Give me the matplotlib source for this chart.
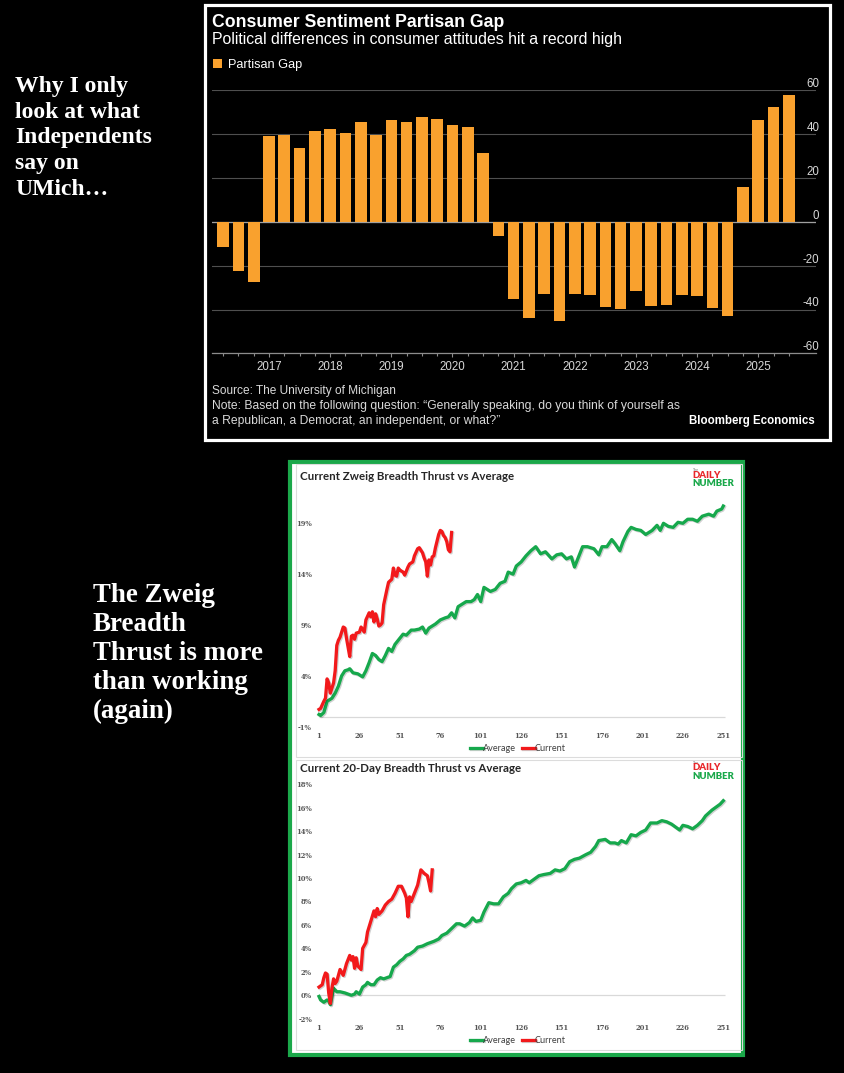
import matplotlib
matplotlib.use("Agg")
import matplotlib.pyplot as plt
from matplotlib.patches import Rectangle
import matplotlib.patheffects as pe

plt.rcParams["axes.unicode_minus"] = False

# ---------------- data ----------------
# Bloomberg partisan gap, quarterly (2016Q2 .. 2025Q3)
quarter_labels = [f"{y}Q{q}" for y in range(2016, 2026) for q in range(1, 5)][1:-1]
partisan_gap = [-11.7, -22.3, -27.5,
                39.1, 39.5, 33.5, 41.1, 42.3, 40.3, 45.6, 39.5, 46.4, 45.3,
                47.8, 46.7, 44.1, 43.2, 31.5,
                -6.5, -35.1, -43.7, -32.8, -45.1, -33.1, -33.4, -38.7, -39.8,
                -31.7, -38.4, -38.0, -33.6, -34.0, -39.5, -42.8,
                16.0, 46.4, 52.2, 57.8]
year_ticks = [2017, 2018, 2019, 2020, 2021, 2022, 2023, 2024, 2025]
gap_yticks = [-60, -40, -20, 0, 20, 40, 60]

# Zweig breadth thrust (cumulative % by trading day)
zweig_avg_days = [1, 2, 4, 6, 9, 11, 13, 15, 17, 19, 20, 22, 25, 28, 30, 32, 34, 36, 38, 40,
                  42, 44, 46, 48, 50, 53, 55, 58, 60, 63, 65, 67, 69, 73, 76, 79, 81, 83, 85, 87,
                  89, 92, 95, 97, 99, 101, 103, 107, 110, 113, 116, 118, 121, 123, 126, 129, 132,
                  135, 138, 141, 145, 148, 151, 154, 157, 159, 161, 164, 167, 171, 174, 176, 179,
                  182, 184, 187, 189, 192, 194, 197, 200, 203, 207, 210, 212, 214, 217, 220, 223,
                  226, 229, 232, 235, 238, 242, 245, 247, 250, 251]
zweig_avg_vals = [0.2, 0.1, 0.4, 1.5, 1.8, 2.3, 3.0, 4.0, 4.5, 4.6, 4.7, 4.3, 4.2, 3.9, 4.5, 5.3,
                  6.2, 6.0, 5.6, 5.4, 6.0, 6.7, 6.4, 7.1, 7.5, 8.1, 8.0, 8.5, 8.5, 8.6, 8.8, 8.2,
                  8.7, 9.1, 9.5, 9.7, 9.8, 10.2, 9.7, 10.8, 11.0, 11.3, 11.3, 11.5, 12.0, 11.3,
                  12.7, 12.3, 12.5, 13.1, 13.3, 14.2, 14.0, 14.8, 15.2, 15.8, 16.3, 16.7, 16.0,
                  16.2, 15.5, 15.9, 16.0, 15.5, 15.7, 14.7, 15.5, 16.7, 16.7, 16.5, 15.9, 16.7,
                  16.7, 17.4, 17.0, 16.3, 17.2, 18.2, 18.6, 18.4, 18.3, 17.9, 18.3, 18.8, 18.3,
                  19.0, 18.7, 18.6, 19.1, 19.0, 19.4, 19.4, 19.2, 19.7, 19.9, 19.7, 20.2, 20.4,
                  20.7]
zweig_cur_days = [1, 2, 4, 5, 6, 7, 8, 9, 10, 11, 12, 13, 14, 16, 17, 18, 19, 20, 21, 22, 23,
                  24, 26, 27, 29, 30, 32, 33, 34, 35, 36, 37, 38, 39, 40, 41, 43, 44, 46, 47, 48,
                  49, 50, 51, 53, 54, 56, 57, 59, 60, 62, 63, 65, 66, 67, 68, 69, 70, 71, 72, 73,
                  75, 76, 77, 78, 79, 80, 81, 82, 83]
zweig_cur_vals = [0.7, 0.8, 1.5, 1.8, 3.7, 3.3, 2.3, 2.8, 3.3, 4.5, 7.0, 7.5, 7.8, 8.8, 8.7,
                  7.7, 6.8, 5.9, 7.9, 8.0, 7.6, 8.2, 8.3, 8.8, 8.3, 9.5, 10.2, 9.8, 10.3, 9.3,
                  10.1, 9.6, 8.9, 9.0, 9.2, 11.0, 12.5, 13.2, 13.5, 14.6, 13.9, 13.8, 14.6, 14.4,
                  14.2, 13.9, 14.7, 15.0, 15.2, 15.8, 16.5, 16.6, 16.1, 15.6, 15.2, 13.8, 15.4,
                  14.9, 15.7, 15.8, 16.6, 17.9, 18.3, 18.2, 17.8, 17.6, 17.2, 16.4, 16.2, 18.1]
zweig_yticks = [-1, 4, 9, 14, 19]

# 20-day breadth thrust
td_avg_days = [1, 2, 4, 6, 7, 8, 10, 12, 14, 17, 19, 21, 23, 24, 26, 28, 30, 31, 33, 35, 37,
               39, 41, 43, 45, 47, 49, 51, 53, 55, 57, 60, 62, 65, 68, 72, 75, 77, 80, 83, 86,
               88, 91, 94, 96, 98, 101, 103, 106, 109, 112, 115, 118, 120, 123, 126, 129, 131,
               134, 137, 140, 144, 147, 150, 153, 156, 159, 162, 166, 169, 172, 174, 178, 181,
               184, 186, 188, 191, 194, 197, 200, 203, 206, 210, 213, 216, 219, 222, 224, 226,
               229, 232, 235, 238, 240, 244, 247, 249, 251]
td_avg_vals = [-0.1, -0.4, -0.6, -0.4, -0.5, -0.8, 0.6, 0.3, 0.3, 0.2, 0.1, 0.0, 0.1, 0.3, 0.1,
               0.7, 0.9, 1.1, 0.9, 0.9, 1.3, 1.5, 1.4, 1.5, 1.6, 2.4, 2.6, 2.9, 3.1, 3.4, 3.5,
               3.8, 4.1, 4.2, 4.4, 4.6, 4.8, 5.1, 5.3, 5.7, 6.1, 6.1, 5.9, 6.2, 6.6, 6.3, 6.4,
               7.1, 7.9, 7.8, 7.8, 8.4, 8.7, 9.1, 9.5, 9.6, 9.8, 9.6, 9.9, 10.2, 10.3, 10.4,
               10.7, 10.6, 10.8, 11.4, 11.6, 11.7, 12.0, 12.2, 12.7, 13.2, 13.3, 13.0, 13.0,
               12.9, 13.2, 13.0, 13.7, 13.6, 13.9, 14.1, 14.7, 14.7, 14.9, 14.8, 14.6, 14.3,
               14.1, 14.5, 14.4, 14.2, 14.5, 14.9, 15.3, 15.8, 16.1, 16.3, 16.6]
td_cur_days = [1, 3, 4, 5, 6, 7, 8, 9, 10, 11, 12, 14, 16, 18, 20, 21, 22, 23, 24, 25, 27, 28,
               30, 31, 33, 35, 36, 37, 38, 40, 42, 44, 46, 48, 50, 52, 54, 55, 56, 57, 58, 60,
               62, 64, 66, 68, 69, 70, 71]
td_cur_vals = [0.7, 0.9, 1.5, 1.9, 1.8, 0.2, -0.7, 0.6, 1.4, 1.0, 1.2, 2.2, 1.7, 2.7, 3.4, 3.0,
               3.3, 2.3, 3.2, 2.5, 2.2, 4.0, 4.5, 5.4, 6.3, 7.2, 6.7, 7.4, 6.9, 7.2, 7.7, 8.0,
               8.2, 8.7, 9.3, 9.3, 8.7, 8.3, 6.7, 8.4, 8.0, 8.7, 9.4, 10.7, 10.4, 10.2, 9.6,
               8.9, 10.7]
td_yticks = [-2, 0, 2, 4, 6, 8, 10, 12, 14, 16, 18]
day_ticks = [1, 26, 51, 76, 101, 126, 151, 176, 201, 226, 251]

# ---------------- figure ----------------
W, H = 845, 1073
fig = plt.figure(figsize=(W / 100, H / 100), dpi=100, facecolor="black")


def px_axes(l, t, r, b, **kw):
    return fig.add_axes([l / W, 1 - b / H, (r - l) / W, (b - t) / H], **kw)


def ftext(x, y, s, **kw):
    return fig.text(x / W, 1 - y / H, s, **kw)


def frect(l, t, r, b, **kw):
    p = Rectangle((l / W, 1 - b / H), (r - l) / W, (b - t) / H,
                  transform=fig.transFigure, **kw)
    fig.patches.append(p)
    return p


SERIF = "Liberation Serif"
BB = "Liberation Sans"

# ---------------- left commentary texts ----------------
for i, line in enumerate(["Why I only", "look at what", "Independents", "say on", "UMich…"]):
    ftext(15, 92.3 + i * 25.6, line, color="white", fontsize=17, fontweight="bold",
          family=SERIF, va="baseline", ha="left")
for i, line in enumerate(["The Zweig", "Breadth", "Thrust is more", "than working", "(again)"]):
    ftext(93, 602.3 + i * 29.0, line, color="white", fontsize=19.4, fontweight="bold",
          family=SERIF, va="baseline", ha="left")

# ---------------- Bloomberg bar chart ----------------
frect(205, 5, 830, 440, fill=False, edgecolor="white", lw=2.3, zorder=-2)

ax = px_axes(212.2, 90, 816, 353.4)
ax.set_facecolor("black")
pos = [int(l[:4]) + (int(l[-1]) - 1) / 4 for l in quarter_labels]
ax.bar(pos, partisan_gap, width=0.19, color="#F9A12E", zorder=3, label="Partisan Gap")
ax.set_xlim(2016.071, 2025.945)
ax.set_ylim(-60, 60)
for s in ["top", "left", "right"]:
    ax.spines[s].set_visible(False)
ax.spines["bottom"].set_color("#8c8c8c")
ax.spines["bottom"].set_linewidth(0.9)
ax.set_yticks(gap_yticks)
ax.grid(axis="y", color="#4f4f4f", lw=0.8, zorder=0)
ax.axhline(0, color="#a0a0a0", lw=0.9, zorder=2)
ax.tick_params(axis="y", which="both", left=False, right=False, labelleft=False,
               labelright=True, pad=-1, labelsize=8.3, labelcolor="#d8d8d8")
for lab in ax.get_yticklabels():
    lab.set_horizontalalignment("right")
    lab.set_verticalalignment("bottom")
    lab.set_family(BB)
ax.set_xticks(year_ticks)
ax.set_xticklabels([str(y) for y in year_ticks], family=BB)
ax.set_xticks(pos, minor=True)
ax.tick_params(axis="x", which="major", length=3.2, width=0.8, color="#8c8c8c",
               labelsize=8.3, labelcolor="#d8d8d8", pad=2)
ax.tick_params(axis="x", which="minor", length=1.8, width=0.8, color="#8c8c8c")
leg = ax.legend(loc="center left", bbox_to_anchor=(213 / W, 1 - 65 / H),
                bbox_transform=fig.transFigure, frameon=False, handlelength=0.7,
                handleheight=0.7, handletextpad=0.5, borderpad=0, borderaxespad=0,
                prop={"family": BB, "size": 9.2})
for t in leg.get_texts():
    t.set_color("white")

ftext(212, 22.3, "Consumer Sentiment Partisan Gap", color="white", fontsize=12.7,
      fontweight="bold", family=BB, va="center")
ftext(212, 39.5, "Political differences in consumer attitudes hit a record high", color="white",
      fontsize=11.45, family=BB, va="center")
ftext(212, 391, "Source: The University of Michigan", color="#d9d9d9", fontsize=8.6,
      family=BB, va="center")
ftext(212, 406, "Note: Based on the following question: \u201cGenerally speaking, do you think of yourself as",
      color="#d9d9d9", fontsize=8.75, family=BB, va="center")
ftext(212, 421, "a Republican, a Democrat, an independent, or what?\u201d", color="#d9d9d9",
      fontsize=8.75, family=BB, va="center")
ftext(815, 421, "Bloomberg Economics", color="white", fontsize=8.3, fontweight="bold",
      family=BB, va="center", ha="right")

# ---------------- Daily Number panel ----------------
frect(290, 462, 743, 1055, facecolor="white", edgecolor="#1BA84A", lw=3.0, zorder=-2)
frect(296, 463.5, 741.5, 757, fill=False, edgecolor="#dcdcdc", lw=0.8, zorder=-1)
frect(296, 759.5, 741.5, 1050, fill=False, edgecolor="#dcdcdc", lw=0.8, zorder=-1)

GREEN = "#16A84C"
RED = "#F2191B"
X_DAY1 = 319.0
PX_PER_DAY = (723.3 - 319.0) / 250
AX_L, AX_R = 316.0, 728.0
xl = (1 + (AX_L - X_DAY1) / PX_PER_DAY, 1 + (AX_R - X_DAY1) / PX_PER_DAY)
shadow = [pe.SimpleLineShadow(offset=(0.8, -0.8), alpha=0.18), pe.Normal()]


def daily_chart(top_px, bottom_px, ylim, yticks, avg_d, avg_v, cur_d, cur_v,
                title, title_y, logo_y, legend_y):
    a = px_axes(AX_L, top_px, AX_R, bottom_px)
    a.set_facecolor("none")
    a.plot(avg_d, avg_v, color=GREEN, lw=2.35, label="Average", solid_joinstyle="round",
           path_effects=shadow, zorder=3)
    a.plot(cur_d, cur_v, color=RED, lw=2.35, label="Current", solid_joinstyle="round",
           path_effects=shadow, zorder=4)
    a.hlines(0, 1, 252, color="#d9d9d9", lw=0.9, zorder=1)
    a.set_xlim(*xl)
    a.set_ylim(*ylim)
    for s in a.spines.values():
        s.set_visible(False)
    a.set_yticks(yticks)
    a.set_yticklabels([f"{v}%" for v in yticks])
    a.set_xticks(day_ticks)
    a.set_xticklabels([str(d) for d in day_ticks])
    a.tick_params(length=0, labelsize=4.9, labelcolor="#555555")
    a.tick_params(axis="y", pad=2.9)
    a.tick_params(axis="x", pad=3.6)
    for lab in a.get_xticklabels() + a.get_yticklabels():
        lab.set_family("DejaVu Serif")
        lab.set_fontweight("bold")
    lg = a.legend(loc="center", bbox_to_anchor=(518 / W, 1 - legend_y / H),
                  bbox_transform=fig.transFigure, ncol=2, frameon=False, handlelength=1.4,
                  handletextpad=0.05, columnspacing=0.6, borderpad=0,
                  prop={"family": "Lato", "size": 6.6})
    for t in lg.get_texts():
        t.set_color("#404040")
    ftext(300, title_y, title, color="#262626", fontsize=8.3, fontweight="bold",
          family="Lato", va="center")
    ftext(693, logo_y - 5.5, "The", color="#777777", fontsize=2.6, family="Lato", va="center")
    ftext(692.5, logo_y, "DAILY", color="#E8282B", fontsize=6.9, fontweight="heavy",
          family="Lato", va="center")
    ftext(692.5, logo_y + 8.3, "NUMBER", color="#19A84A", fontsize=6.9, fontweight="heavy",
          family="Lato", va="center")
    return a


z_px_per = (726.7 - 523.3) / 20
daily_chart(726.7 - (21.5 + 1) * z_px_per, 726.7, (-1, 21.5), zweig_yticks,
            zweig_avg_days, zweig_avg_vals, zweig_cur_days, zweig_cur_vals,
            "Current Zweig Breadth Thrust vs Average", 477, 475.7, 748.7)
daily_chart(784.3, 1018.7, (-2, 18), td_yticks,
            td_avg_days, td_avg_vals, td_cur_days, td_cur_vals,
            "Current 20-Day Breadth Thrust vs Average", 769, 768, 1040.3)

fig.savefig("out.png", dpi=100, facecolor="black")
